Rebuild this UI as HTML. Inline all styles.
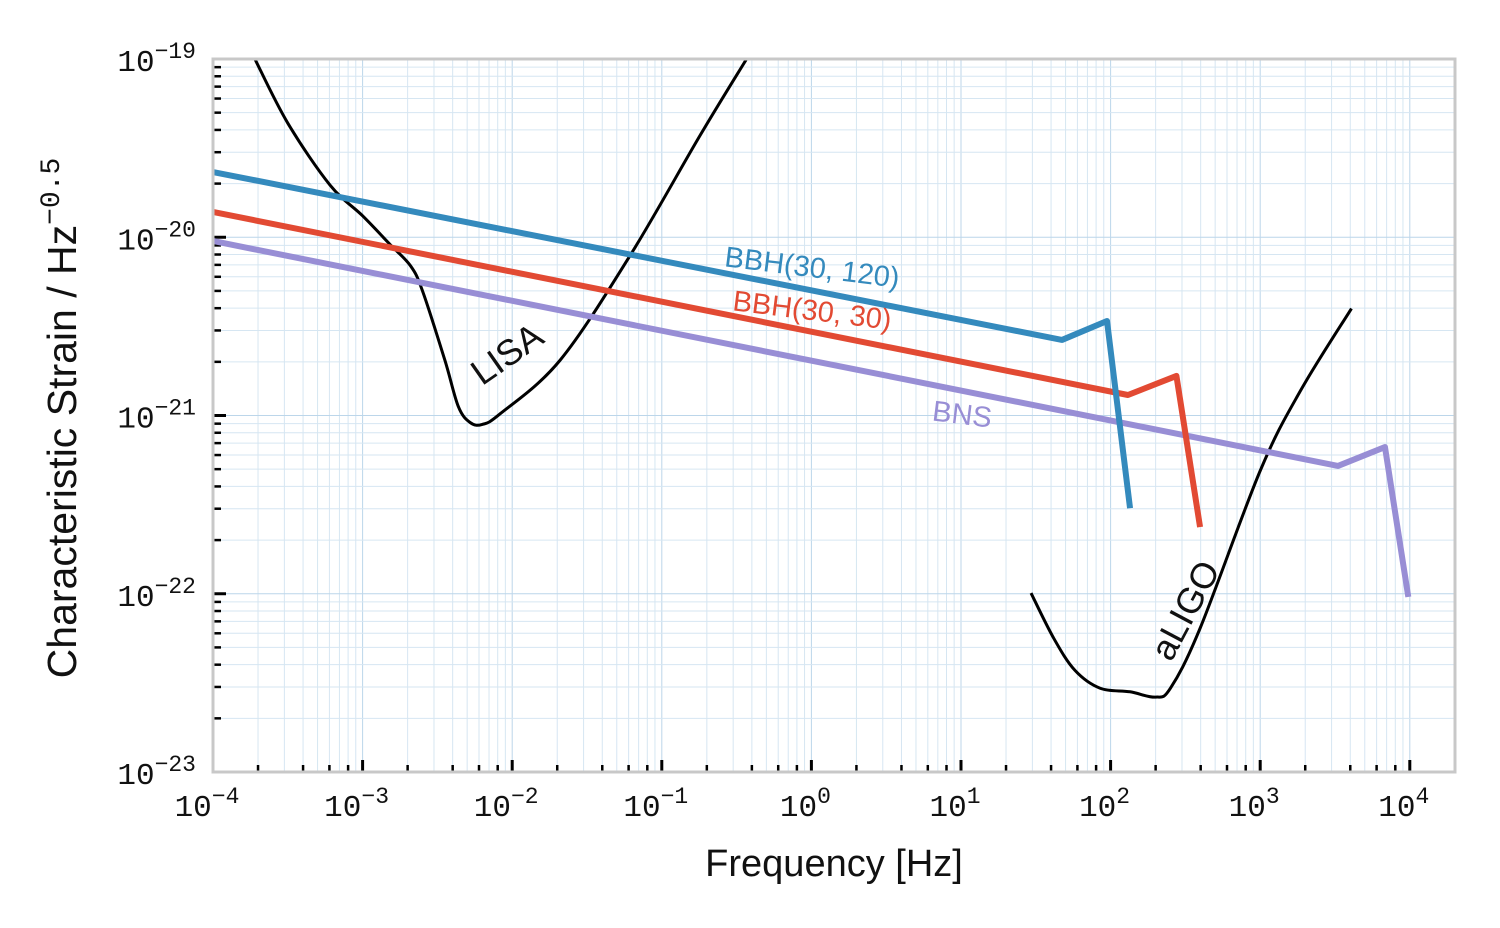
<!DOCTYPE html>
<html><head><meta charset="utf-8"><style>
html,body{margin:0;padding:0;background:#fff;}
svg{display:block;}
</style></head><body>
<svg id="chart" width="1500" height="928" viewBox="0 0 1500 928" xmlns="http://www.w3.org/2000/svg">
<g id="grid"></g>
<g id="ticks"></g>
<g id="series"></g>
<rect x="213" y="59" width="1242" height="713" fill="none" stroke="#c8c8c8" stroke-width="3"/>
<g id="labels"></g>
<text x="834" y="876" text-anchor="middle" font-family="Liberation Sans, sans-serif" font-size="38" fill="#111">Frequency [Hz]</text>
<text transform="translate(76,418) rotate(-90)" text-anchor="middle" font-family="Liberation Sans, sans-serif" font-size="41" fill="#111">Characteristic Strain / Hz<tspan font-family="Liberation Mono, monospace" font-size="28" dy="-17">−0.5</tspan></text>
<text transform="translate(811,277) rotate(7)" text-anchor="middle" font-family="Liberation Sans, sans-serif" font-size="29" fill="#348abd">BBH(30, 120)</text>
<text transform="translate(811,320) rotate(7)" text-anchor="middle" font-family="Liberation Sans, sans-serif" font-size="29" fill="#e24a33">BBH(30, 30)</text>
<text transform="translate(961,424) rotate(7)" text-anchor="middle" font-family="Liberation Sans, sans-serif" font-size="29" fill="#988ed5">BNS</text>
<text transform="translate(514,364) rotate(-35)" text-anchor="middle" font-family="Liberation Sans, sans-serif" font-size="36" fill="#111">LISA</text>
<text transform="translate(1196,616) rotate(-62)" text-anchor="middle" font-family="Liberation Sans, sans-serif" font-size="36" fill="#111">aLIGO</text>
</svg>
<script>
// data in log10 space: [log10 f, log10 h]
const bbh120 = [[-4,-19.634],[1.675,-20.576],[1.976,-20.47],[2.13,-21.52]];
const bbh30 = [[-4,-19.858],[2.116,-20.885],[2.44,-20.778],[2.598,-21.626]];
const bns = [[-4,-20.021],[3.52,-21.283],[3.834,-21.177],[3.99,-22.018]];
const lisa = [[-3.72,-19.0],[-3.5,-19.36],[-3.218,-19.707],[-3.0,-19.88],[-2.817,-20.04],[-2.68,-20.16],[-2.6,-20.3],[-2.45,-20.69],[-2.36,-20.95],[-2.28,-21.04],[-2.2,-21.05],[-2.08,-20.99],[-1.68,-20.69],[-1.21,-20.1],[-0.745,-19.43],[-0.437,-19.005]];
const aligo = [[1.468,-21.996],[1.62,-22.25],[1.762,-22.43],[1.93,-22.53],[2.13,-22.55],[2.3,-22.58],[2.4,-22.53],[2.6,-22.19],[3.0,-21.31],[3.27,-20.86],[3.61,-20.4]];
const xTicks = [-4,-3,-2,-1,0,1,2,3,4];
const yTicks = [-23,-22,-21,-20,-19];

const X0=213, XD=149.6, Y0=59, YD=178.25;
const sx = lf => X0 + (lf + 4) * XD;
const sy = lh => Y0 + (-19 - lh) * YD;
const NS='http://www.w3.org/2000/svg';
function mk(tag, attrs, parent){const e=document.createElementNS(NS,tag);for(const k in attrs)e.setAttribute(k,attrs[k]);parent.appendChild(e);return e;}
const grid=document.getElementById('grid'), ticks=document.getElementById('ticks'), labels=document.getElementById('labels'), series=document.getElementById('series');
const xmax = 4.3;
for(let d=-4; d<=4; d++){
  for(let m=1;m<10;m++){
    const lf=d+Math.log10(m); if(lf>xmax) continue;
    const x=sx(lf);
    const g=mk('line',{x1:x,x2:x,y1:59,y2:772,stroke:m===1?'#bcd6ea':'#d6e6f2','stroke-width':1},grid);
    
    
    if(m===1||m%2===0){
      const t=mk('line',{x1:x,x2:x,y1:772,y2:m===1?760:765,stroke:'#000','stroke-width':m===1?3:2.5},ticks);
      
      
    }
  }
}
for(let d=-23; d<-19; d++){
  for(let m=1;m<10;m++){
    const y=sy(d+Math.log10(m));
    const g=mk('line',{x1:213,x2:1455,y1:y,y2:y,stroke:m===1?'#bcd6ea':'#d6e6f2','stroke-width':1},grid);
    
    
    const t=mk('line',{x1:213,x2:m===1?226:221,y1:y,y2:y,stroke:'#000','stroke-width':m===1?3:2.5},ticks);
    
    
  }
}
xTicks.forEach(v=>{
  const t=mk('text',{x:sx(v)-6,y:816,'text-anchor':'middle','font-family':'Liberation Mono, monospace','font-size':31,fill:'#111'},labels);
  
  
  t.textContent='10';
  const s=mk('tspan',{dy:-13,'font-size':23},t); s.textContent=(v<0?'−':'')+Math.abs(v);
});
yTicks.forEach(v=>{
  const t=mk('text',{x:196,y:sy(v)+12,'text-anchor':'end','font-family':'Liberation Mono, monospace','font-size':31,fill:'#111'},labels);
  
  
  const a=mk('tspan',{},t); a.textContent='10';
  const s=mk('tspan',{dy:-13,'font-size':23},t); s.textContent='−'+Math.abs(v);
});
function draw(data,color,w,name){
  const p=mk('polyline',{points:data.map(d=>sx(d[0])+','+sy(d[1])).join(' '),fill:'none',stroke:color,'stroke-width':w,'stroke-linejoin':'round'},series);
  
  
}
function drawSmooth(data,color,w,name){
  const P=data.map(d=>[sx(d[0]),sy(d[1])]);
  let s='M'+P[0][0]+','+P[0][1];
  for(let i=0;i<P.length-1;i++){
    const p0=P[Math.max(0,i-1)],p1=P[i],p2=P[i+1],p3=P[Math.min(P.length-1,i+2)];
    const c1=[p1[0]+(p2[0]-p0[0])/6,p1[1]+(p2[1]-p0[1])/6];
    const c2=[p2[0]-(p3[0]-p1[0])/6,p2[1]-(p3[1]-p1[1])/6];
    s+=' C'+c1[0]+','+c1[1]+' '+c2[0]+','+c2[1]+' '+p2[0]+','+p2[1];
  }
  const p=mk('path',{d:s,fill:'none',stroke:color,'stroke-width':w},series);
  
  
}
drawSmooth(lisa,'#000',3,'lisa-curve');
drawSmooth(aligo,'#000',3,'aligo-curve');
draw(bns,'#988ed5',6,'bns-line');
draw(bbh30,'#e24a33',6,'bbh-30-30-line');
draw(bbh120,'#348abd',6,'bbh-30-120-line');
</script>
</body></html>
